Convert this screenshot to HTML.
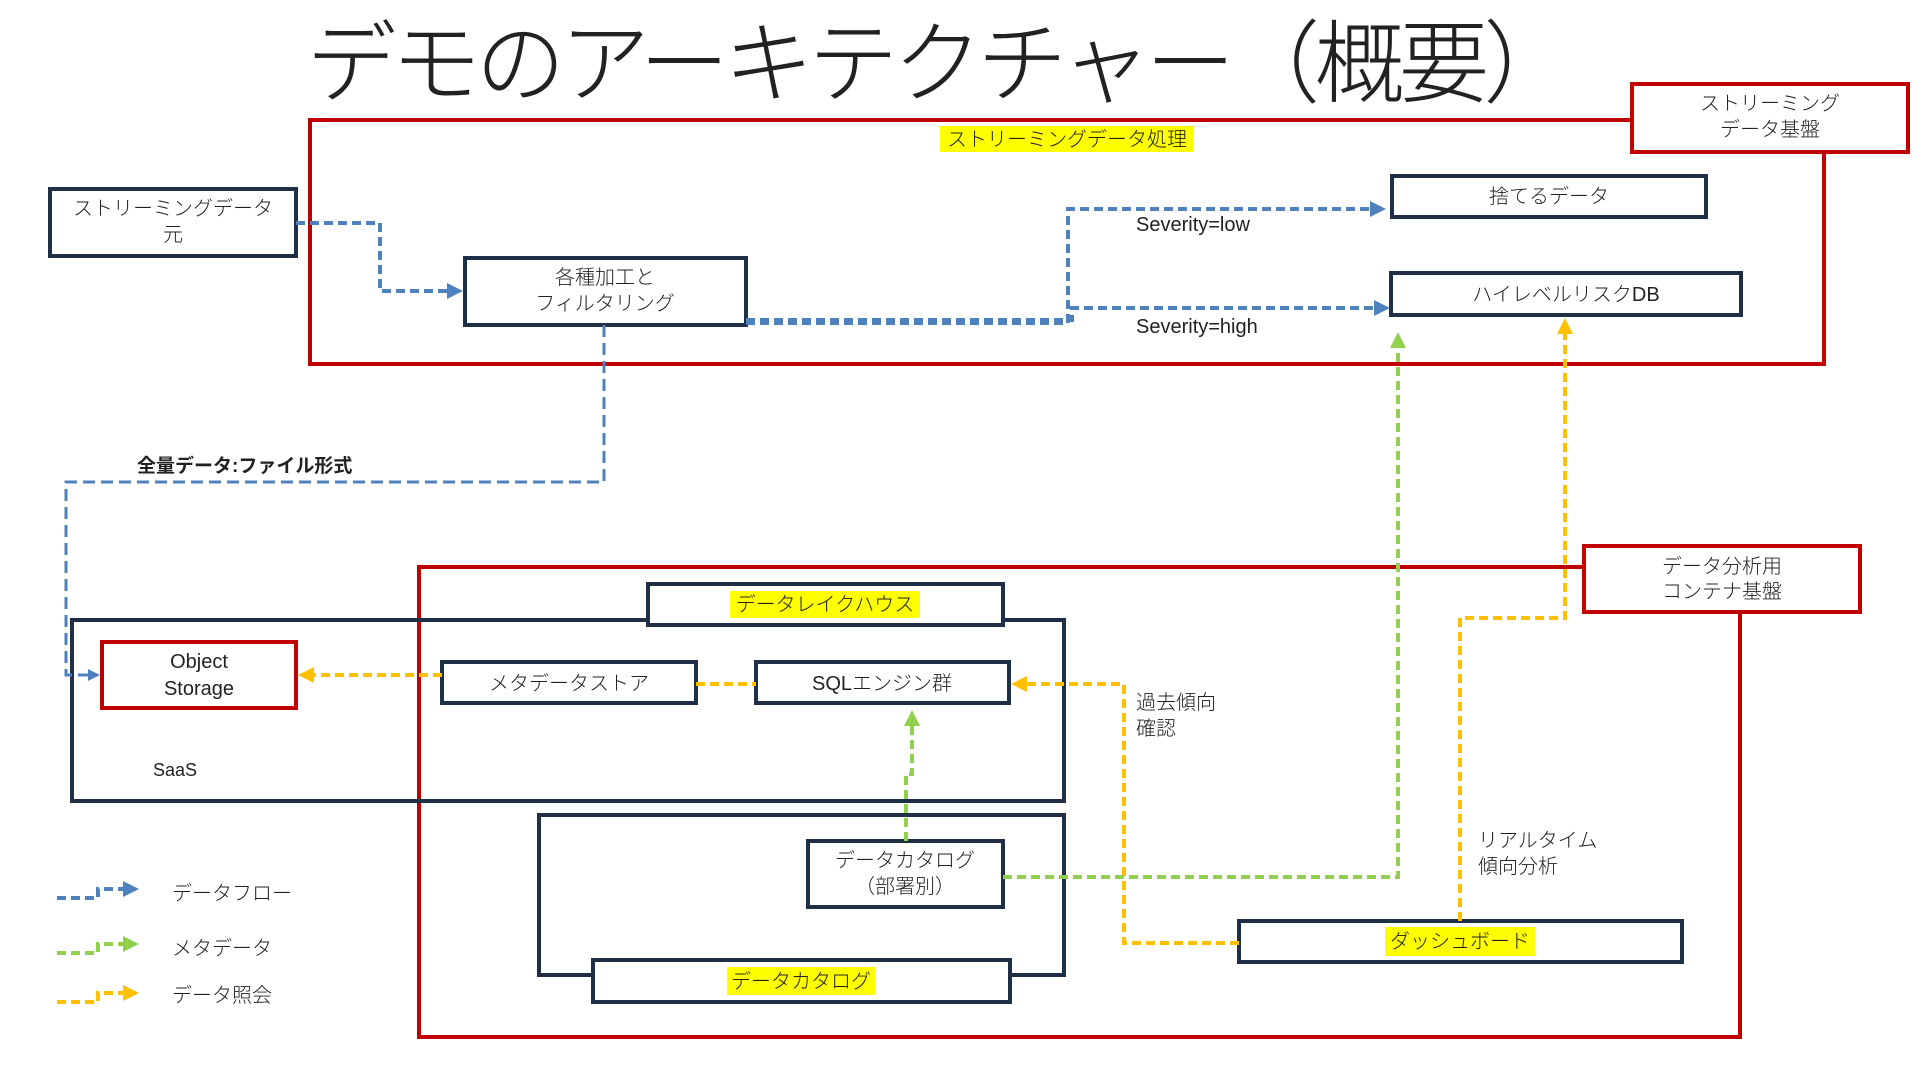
<!DOCTYPE html>
<html><head><meta charset="utf-8"><style>
html,body{margin:0;padding:0;background:#fff;}
svg{display:block;}
text{font-family:"Liberation Sans","Noto Sans CJK JP",sans-serif;fill:#222;}
.t{font-size:20px;font-weight:300;}
</style></head><body>
<svg width="1920" height="1080" viewBox="0 0 1920 1080" xmlns="http://www.w3.org/2000/svg">
<defs>
<marker id="ab" markerWidth="4" markerHeight="4" refX="3" refY="2" orient="auto" markerUnits="strokeWidth"><path d="M0,0 L4,2 L0,4 z" fill="#4f81bd"/></marker>
<marker id="ag" markerWidth="4" markerHeight="4" refX="3" refY="2" orient="auto" markerUnits="strokeWidth"><path d="M0,0 L4,2 L0,4 z" fill="#92d050"/></marker>
<marker id="ay" markerWidth="4" markerHeight="4" refX="3" refY="2" orient="auto" markerUnits="strokeWidth"><path d="M0,0 L4,2 L0,4 z" fill="#ffc000"/></marker>
</defs>

<text x="940" y="95" font-size="90" text-anchor="middle" style="font-weight:300" textLength="1267">デモのアーキテクチャー（概要）</text>

<!-- streaming red box -->
<rect x="310" y="120" width="1514" height="244" fill="none" stroke="#c00000" stroke-width="4"/>
<rect x="1632" y="84" width="276" height="68" fill="#fff" stroke="#c00000" stroke-width="4"/>
<text class="t" x="1770" y="110" text-anchor="middle">ストリーミング</text>
<text class="t" x="1770" y="136" text-anchor="middle">データ基盤</text>
<rect x="940" y="126" width="254" height="26" fill="#ffff00"/>
<text class="t" x="1067" y="146" text-anchor="middle">ストリーミングデータ処理</text>

<!-- analysis red box -->
<rect x="419" y="567" width="1321" height="470" fill="none" stroke="#c00000" stroke-width="4"/>
<rect x="1584" y="546" width="276" height="66" fill="#fff" stroke="#c00000" stroke-width="4"/>
<text class="t" x="1722" y="573" text-anchor="middle">データ分析用</text>
<text class="t" x="1722" y="598" text-anchor="middle">コンテナ基盤</text>

<!-- SaaS -->
<rect x="72" y="620" width="992" height="181" fill="none" stroke="#1f2f45" stroke-width="4"/>
<text x="153" y="776" font-size="18">SaaS</text>
<rect x="648" y="584" width="355" height="41" fill="#fff" stroke="#1f2f45" stroke-width="4"/>
<rect x="730" y="591" width="190" height="27" fill="#ffff00"/>
<text class="t" x="825" y="611" text-anchor="middle">データレイクハウス</text>

<rect x="539" y="815" width="525" height="160" fill="none" stroke="#1f2f45" stroke-width="4"/>
<rect x="593" y="960" width="417" height="42" fill="#fff" stroke="#1f2f45" stroke-width="4"/>
<rect x="727" y="967" width="148" height="28" fill="#ffff00"/>
<text class="t" x="801" y="988" text-anchor="middle">データカタログ</text>

<!-- nodes -->
<rect x="50" y="189" width="246" height="67" fill="#fff" stroke="#1f2f45" stroke-width="4"/>
<text class="t" x="173" y="215" text-anchor="middle">ストリーミングデータ</text>
<text class="t" x="173" y="241" text-anchor="middle">元</text>
<rect x="465" y="258" width="281" height="67" fill="#fff" stroke="#1f2f45" stroke-width="4"/>
<text class="t" x="605" y="284" text-anchor="middle">各種加工と</text>
<text class="t" x="605" y="310" text-anchor="middle">フィルタリング</text>
<rect x="1392" y="176" width="314" height="41" fill="#fff" stroke="#1f2f45" stroke-width="4"/>
<text class="t" x="1549" y="203" text-anchor="middle">捨てるデータ</text>
<rect x="1391" y="273" width="350" height="42" fill="#fff" stroke="#1f2f45" stroke-width="4"/>
<text class="t" x="1566" y="301" text-anchor="middle">ハイレベルリスクDB</text>

<rect x="102" y="642" width="194" height="66" fill="#fff" stroke="#c00000" stroke-width="4"/>
<text class="t" x="199" y="668" text-anchor="middle">Object</text>
<text class="t" x="199" y="695" text-anchor="middle">Storage</text>
<rect x="442" y="662" width="254" height="41" fill="#fff" stroke="#1f2f45" stroke-width="4"/>
<text class="t" x="569" y="690" text-anchor="middle">メタデータストア</text>
<rect x="756" y="662" width="253" height="41" fill="#fff" stroke="#1f2f45" stroke-width="4"/>
<text class="t" x="882" y="690" text-anchor="middle">SQLエンジン群</text>
<rect x="808" y="841" width="195" height="66" fill="#fff" stroke="#1f2f45" stroke-width="4"/>
<text class="t" x="905" y="867" text-anchor="middle">データカタログ</text>
<text class="t" x="905" y="893" text-anchor="middle">（部署別）</text>
<rect x="1239" y="921" width="443" height="41" fill="#fff" stroke="#1f2f45" stroke-width="4"/>
<rect x="1385" y="927" width="150" height="29" fill="#ffff00"/>
<text class="t" x="1460" y="948" text-anchor="middle">ダッシュボード</text>

<!-- blue connectors -->
<g fill="none" stroke="#4f81bd" stroke-width="4" stroke-dasharray="9,5">
<path d="M296,223 H380 V291 H459" marker-end="url(#ab)"/>
<path d="M746,323 H1068 V209 H1382" marker-end="url(#ab)"/>
<path d="M746,320 H1072 V308 H1386" marker-end="url(#ab)"/>
</g>
<g fill="none" stroke="#4f81bd" stroke-width="3" stroke-dasharray="12,6">
<path d="M604,325 V482 H66 V675 H97" marker-end="url(#ab)"/>
</g>
<text x="137" y="472" font-size="19" font-weight="bold">全量データ:ファイル形式</text>
<text class="t" x="1136" y="231">Severity=low</text>
<text class="t" x="1136" y="333">Severity=high</text>

<!-- yellow connectors -->
<g fill="none" stroke="#ffc000" stroke-width="4" stroke-dasharray="9,5">
<path d="M442,675 H302" marker-end="url(#ay)"/>
<path d="M696,684 H756"/>
<path d="M1239,943 H1124 V684 H1015" marker-end="url(#ay)"/>
<path d="M1460,921 V618 H1565 V322" marker-end="url(#ay)"/>
</g>
<text class="t" x="1136" y="709">過去傾向</text>
<text class="t" x="1136" y="735">確認</text>
<text class="t" x="1478" y="847">リアルタイム</text>
<text class="t" x="1478" y="873">傾向分析</text>

<!-- green connectors -->
<g fill="none" stroke="#92d050" stroke-width="4" stroke-dasharray="9,5">
<path d="M1003,877 H1398 V336" marker-end="url(#ag)"/>
<path d="M906,841 V774 H912 V714" marker-end="url(#ag)"/>
</g>

<!-- legend -->
<g fill="none" stroke-width="4" stroke-dasharray="9,5">
<path d="M57,898 H98 V889 H135" stroke="#4f81bd" marker-end="url(#ab)"/>
<path d="M57,953 H98 V944 H135" stroke="#92d050" marker-end="url(#ag)"/>
<path d="M57,1002 H98 V993 H135" stroke="#ffc000" marker-end="url(#ay)"/>
</g>
<text class="t" x="172" y="900">データフロー</text>
<text class="t" x="172" y="955">メタデータ</text>
<text class="t" x="172" y="1002">データ照会</text>
</svg>
</body></html>
